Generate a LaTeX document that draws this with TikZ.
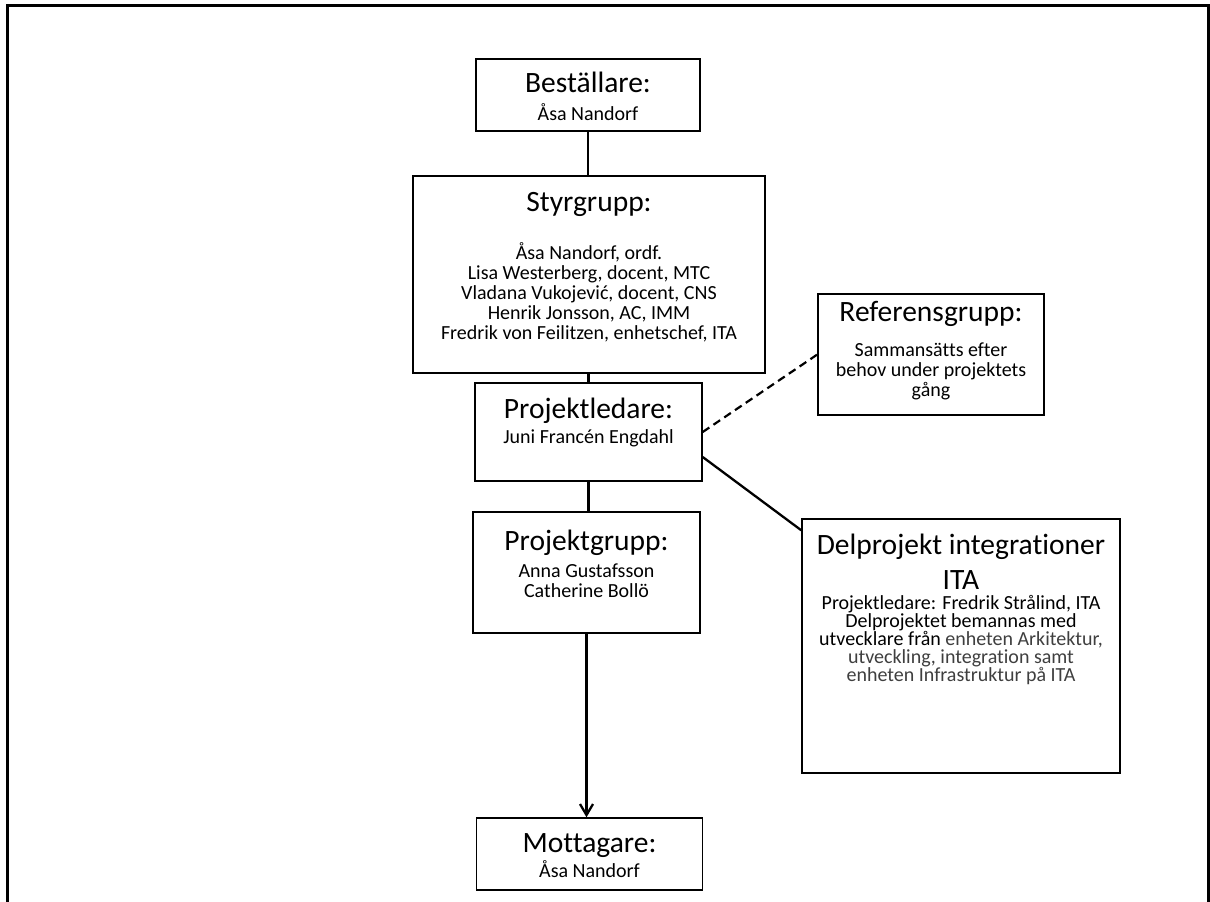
\documentclass[tikz,border=0pt]{standalone}
\usepackage{fontspec}
\setmainfont{Carlito}[Ligatures=NoCommon]
\usetikzlibrary{arrows.meta}
\definecolor{lighttxt}{HTML}{3F3F3F}
\begin{document}
\begin{tikzpicture}[x=1pt,y=-1pt,
  box/.style={draw=black,line width=1.4pt,fill=white,inner sep=0pt,rectangle},
  ttl/.style={font=\fontsize{29.5}{30}\selectfont,inner sep=0pt,anchor=base},
  bd/.style={font=\fontsize{20}{20}\selectfont,inner sep=0pt,anchor=base},
  conn/.style={draw=black,line width=2.3pt},
  dconn/.style={draw=black,line width=2.2pt,dash pattern=on 8pt off 5pt},
  frameline/.style={draw=black,line width=3pt}
]
\useasboundingbox (0,0) rectangle (1210,902);
% outer frame (open at the bottom)
\draw[frameline] (7.7,902) -- (7.7,5.2) -- (1208,5.2) -- (1208,902);

% boxes
\node[box,minimum width=224pt,minimum height=72pt] (bes) at (588,95) {};
\node[box,minimum width=352pt,minimum height=197pt] (sty) at (589,274.5) {};
\node[box,minimum width=227pt,minimum height=98pt] (pl) at (588.5,432) {};
\node[box,minimum width=227pt,minimum height=121pt] (pg) at (586.5,572.5) {};
\node[box,minimum width=226pt,minimum height=72pt] (mot) at (589.5,854) {};
\node[box,minimum width=226pt,minimum height=121pt] (ref) at (931,354.5) {};
\node[box,minimum width=318pt,minimum height=254pt] (del) at (961,646) {};

% connectors
\draw[conn] (bes.south) -- (bes.south |- sty.north);
\draw[conn] (pl.north |- sty.south) -- (pl.north);
\draw[conn] (pl.south) -- (pl.south |- pg.north);
\draw[conn,-{Straight Barb[length=11pt,width=13pt,line width=2.3pt]}] (pg.south) -- (pg.south |- mot.north);
\draw[dconn] (pl.east) -- (ref.west);
\draw[conn] ([yshift=-25pt]pl.east) -- ([yshift=-12pt]del.north west);

% texts
\node[ttl] (bes-t) at (588,92) {Beställare:};
\node[bd] (bes-b) at (588,120) {Åsa Nandorf};

\node[ttl] (sty-t) at (589,211) {Styrgrupp:};
\node[bd] (sty-b1) at (589,259) {Åsa Nandorf, ordf.};
\node[bd] (sty-b2) at (589,279) {Lisa Westerberg, docent, MTC};
\node[bd] (sty-b3) at (589,299) {Vladana Vukojević, docent, CNS};
\node[bd] (sty-b4) at (589,319) {Henrik Jonsson, AC, IMM};
\node[bd] (sty-b5) at (589,339) {Fredrik von Feilitzen, enhetschef, ITA};

\node[ttl] (pl-t) at (588.5,418) {Projektledare:};
\node[bd] (pl-b) at (588.5,443) {Juni Francén Engdahl};

\node[ttl] (pg-t) at (586.5,550) {Projektgrupp:};
\node[bd] (pg-b1) at (586.5,577) {Anna Gustafsson};
\node[bd] (pg-b2) at (586.5,597) {Catherine Bollö};

\node[ttl] (mot-t) at (589.5,852) {Mottagare:};
\node[bd] (mot-b) at (589.5,877) {Åsa Nandorf};

\node[ttl] (ref-t) at (931,321) {Referensgrupp:};
\node[bd] (ref-b1) at (931,356) {Sammansätts efter};
\node[bd] (ref-b2) at (931,376) {behov under projektets};
\node[bd] (ref-b3) at (931,396) {gång};

\node[ttl] (del-t1) at (961,554) {Delprojekt integrationer};
\node[ttl] (del-t2) at (961,589) {ITA};
\node[bd] (del-b1) at (961,609) {Projektledare: Fredrik Strålind, ITA};
\node[bd] (del-b2) at (961,627) {Delprojektet bemannas med};
\node[bd] (del-b3) at (961,645) {utvecklare från \textcolor{lighttxt}{enheten Arkitektur,}};
\node[bd,text=lighttxt] (del-b4) at (961,663) {utveckling, integration samt};
\node[bd,text=lighttxt] (del-b5) at (961,681) {enheten Infrastruktur på ITA};
\end{tikzpicture}
\end{document}
